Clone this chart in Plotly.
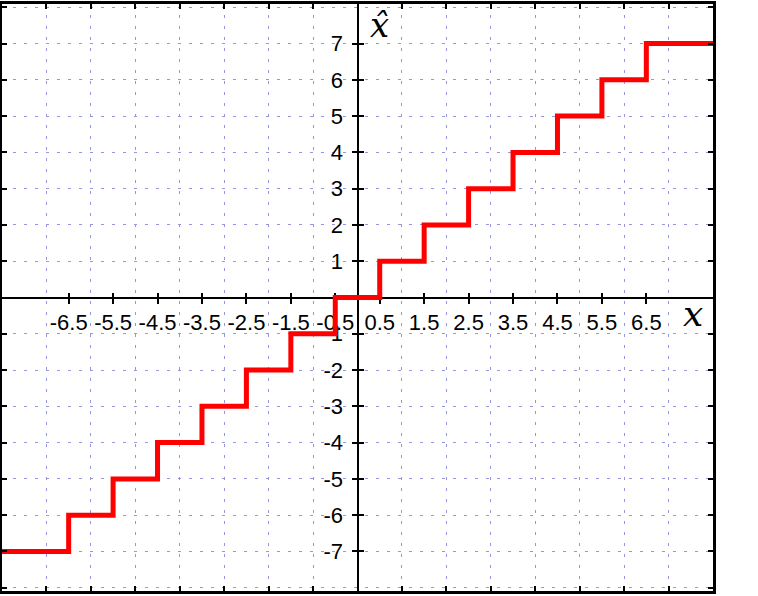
import plotly.graph_objects as go

# Staircase (quantizer) data
step_x = [-8, -6.5, -5.5, -4.5, -3.5, -2.5, -1.5, -0.5, 0.5, 1.5, 2.5, 3.5, 4.5, 5.5, 6.5, 8]
step_y = [-7, -6, -5, -4, -3, -2, -1, 0, 1, 2, 3, 4, 5, 6, 7, 7]

# Tick labels
x_tick_vals = [-6.5, -5.5, -4.5, -3.5, -2.5, -1.5, -0.5, 0.5, 1.5, 2.5, 3.5, 4.5, 5.5, 6.5]
x_tick_text = ["-6.5", "-5.5", "-4.5", "-3.5", "-2.5", "-1.5", "-0.5",
               "0.5", "1.5", "2.5", "3.5", "4.5", "5.5", "6.5"]
y_tick_vals = [-7, -6, -5, -4, -3, -2, -1, 1, 2, 3, 4, 5, 6, 7]
y_tick_text = ["-7", "-6", "-5", "-4", "-3", "-2", "-1", "1", "2", "3", "4", "5", "6", "7"]
grid_vals = [-8, -7, -6, -5, -4, -3, -2, -1, 0, 1, 2, 3, 4, 5, 6, 7, 8]

XR = [-8, 8]
YR = [-8.09, 8.09]
GRID = "rgb(150,150,222)"
TICKFONT = dict(family="Liberation Sans", size=22, color="black")

fig = go.Figure()
fig.add_trace(go.Scatter(x=step_x, y=step_y, mode="lines", line_shape="hv",
                         line=dict(color="#ff0000", width=5), hoverinfo="skip",
                         showlegend=False))
# helper empty traces to realise overlay axes
fig.add_trace(go.Scatter(x=[None], y=[None], xaxis="x2", yaxis="y2", showlegend=False))
fig.add_trace(go.Scatter(x=[None], y=[None], xaxis="x3", yaxis="y3", showlegend=False))

fig.update_layout(
    width=758, height=596,
    margin=dict(l=2, r=45, t=4, b=5),
    paper_bgcolor="white", plot_bgcolor="white",
    showlegend=False,
    xaxis=dict(range=XR, tickvals=grid_vals, showticklabels=False,
               ticks="inside", ticklen=5, tickwidth=2, tickcolor="black",
               showline=True, linewidth=3, linecolor="black", mirror="ticks",
               showgrid=True, gridcolor=GRID, gridwidth=1, griddash="3px,8px",
               zeroline=False, automargin=False),
    yaxis=dict(range=YR, tickvals=grid_vals, showticklabels=False,
               ticks="inside", ticklen=5, tickwidth=2, tickcolor="black",
               showline=True, linewidth=3, linecolor="black", mirror="ticks",
               showgrid=True, gridcolor=GRID, gridwidth=1, griddash="3px,8px",
               zeroline=False, automargin=False),
    xaxis2=dict(overlaying="x", anchor="free", position=0.5, range=XR, side="bottom",
                tickvals=x_tick_vals, ticktext=x_tick_text, tickfont=TICKFONT,
                ticks="outside", ticklen=5, tickwidth=2, tickcolor="black",
                ticklabelstandoff=0,
                showline=True, linewidth=2, linecolor="black",
                showgrid=False, zeroline=False, layer="below traces", automargin=False),
    yaxis2=dict(overlaying="y", anchor="free", position=0.5, range=YR, side="left",
                tickvals=y_tick_vals, ticktext=y_tick_text, tickfont=TICKFONT,
                ticks="outside", ticklen=5, tickwidth=2, tickcolor="black",
                ticklabelstandoff=4,
                showline=True, linewidth=2, linecolor="black",
                showgrid=False, zeroline=False, layer="below traces", automargin=False),
    xaxis3=dict(overlaying="x", anchor="free", position=0.5, range=XR, side="bottom",
                tickvals=x_tick_vals, showticklabels=False,
                ticks="inside", ticklen=5, tickwidth=2, tickcolor="black",
                showline=False, showgrid=False, zeroline=False, layer="below traces",
                automargin=False),
    yaxis3=dict(overlaying="y", anchor="free", position=0.5, range=YR, side="left",
                tickvals=y_tick_vals, showticklabels=False,
                ticks="inside", ticklen=5, tickwidth=2, tickcolor="black",
                showline=False, showgrid=False, zeroline=False, layer="below traces",
                automargin=False),
    annotations=[
        dict(x=0.5, y=7.5, xref="x", yref="y", text="x\u0302", showarrow=False,
             font=dict(family="DejaVu Serif", size=34, color="black", style="italic")),
        dict(x=7.56, y=-0.45, xref="x", yref="y", text="x", showarrow=False,
             font=dict(family="DejaVu Serif", size=36, color="black", style="italic")),
    ],
)

fig.write_html("out.html", config={"displayModeBar": False},
               post_script="document.body.style.margin='0';")
